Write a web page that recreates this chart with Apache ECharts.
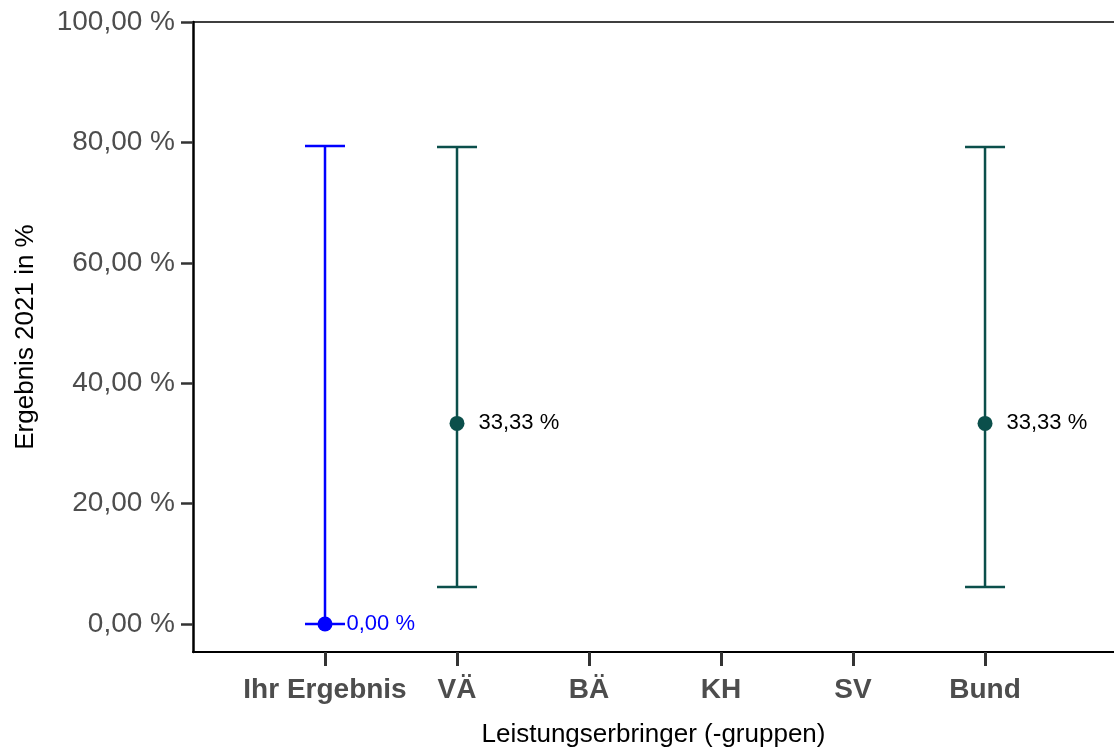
<!DOCTYPE html>
<html>
<head>
<meta charset="utf-8">
<title>Ergebnis 2021</title>
<script src="https://cdn.jsdelivr.net/npm/echarts@6/dist/echarts.min.js"></script>
<style>
  html, body { margin: 0; padding: 0; background: #fff; }
  #chart { width: 1114px; height: 753px; }
</style>
</head>
<body>
<div id="chart"></div>
<script>
// data
const categories = ['Ihr Ergebnis', 'VÄ', 'BÄ', 'KH', 'SV', 'Bund'];
const results = [0, 33.33, null, null, null, 33.33];
const lowerCI = [0, 6.15, null, null, null, 6.15];
const upperCI = [79.4, 79.25, null, null, null, 79.25];
const yTicks = [0, 20, 40, 60, 80, 100];

const FONT = '"Liberation Sans", Arial, Helvetica, sans-serif';
const ownColor = '#0000FF';
const groupColor = '#0B4F4B';
const colorFor = i => (i === 0 ? ownColor : groupColor);
const fmt = v => v.toFixed(2).replace('.', ',') + ' %';
const xTicks = categories.map((c, i) => i + 1);

const barData = [];
const pointData = [];
categories.forEach((c, i) => {
  if (results[i] == null) return;
  barData.push({ value: [i + 1, lowerCI[i], upperCI[i]], itemStyle: { color: colorFor(i) } });
  pointData.push({
    value: [i + 1, results[i]],
    itemStyle: { color: colorFor(i), opacity: 1 },
    label: { color: i === 0 ? ownColor : '#000' }
  });
});

const chart = echarts.init(document.getElementById('chart'), null, { renderer: 'canvas' });

chart.setOption({
  animation: false,
  textStyle: { fontFamily: FONT },
  grid: { left: 193, right: 0, top: 22, bottom: 95, containLabel: false },
  xAxis: [{
    type: 'value',
    min: 0,
    max: 6.977,
    interval: 1,
    name: 'Leistungserbringer (-gruppen)',
    nameLocation: 'middle',
    nameGap: 70,
    nameTextStyle: { fontSize: 26, color: '#000', fontFamily: FONT },
    axisLine: { onZero: false, lineStyle: { color: '#000', width: 2 } },
    axisTick: { customValues: xTicks, length: 14, lineStyle: { color: '#333', width: 3 } },
    axisLabel: {
      customValues: xTicks,
      formatter: v => categories[v - 1] || '',
      fontSize: 28,
      fontWeight: 'bold',
      color: '#4D4D4D',
      margin: 24,
      fontFamily: FONT
    },
    splitLine: { show: false }
  }, {
    type: 'value',
    position: 'top',
    min: 0,
    max: 6.977,
    axisLine: { onZero: false, lineStyle: { color: '#000', width: 1.5 } },
    axisTick: { show: false },
    axisLabel: { show: false },
    splitLine: { show: false }
  }],
  yAxis: {
    type: 'value',
    min: -4.64,
    max: 100,
    name: 'Ergebnis 2021 in %',
    nameLocation: 'middle',
    nameGap: 154,
    nameTextStyle: { fontSize: 26, color: '#000', fontFamily: FONT },
    axisLine: { show: true, onZero: false, lineStyle: { color: '#000', width: 2.5 } },
    axisTick: { show: true, customValues: yTicks, length: 12, lineStyle: { color: '#333', width: 2.5 } },
    axisLabel: {
      customValues: yTicks,
      formatter: v => fmt(v),
      fontSize: 28,
      color: '#4D4D4D',
      margin: 18,
      fontFamily: FONT
    },
    splitLine: { show: false }
  },
  series: [{
    type: 'custom',
    name: 'KI',
    data: barData,
    encode: { x: 0, y: [1, 2] },
    renderItem(params, api) {
      const x = api.value(0);
      const lo = api.coord([x, api.value(1)]);
      const hi = api.coord([x, api.value(2)]);
      const hw = 20;
      const style = { stroke: api.visual('color'), lineWidth: 2.5 };
      return {
        type: 'group',
        children: [
          { type: 'line', shape: { x1: lo[0], y1: lo[1], x2: hi[0], y2: hi[1] }, style },
          { type: 'line', shape: { x1: hi[0] - hw, y1: hi[1], x2: hi[0] + hw, y2: hi[1] }, style },
          { type: 'line', shape: { x1: lo[0] - hw, y1: lo[1], x2: lo[0] + hw, y2: lo[1] }, style }
        ]
      };
    },
    z: 2
  }, {
    type: 'scatter',
    name: 'Ergebnis',
    data: pointData,
    symbol: 'circle',
    symbolSize: 15,
    itemStyle: { opacity: 1 },
    label: {
      show: true,
      position: 'right',
      distance: 14,
      fontSize: 22,
      fontFamily: FONT,
      formatter: p => fmt(p.value[1])
    },
    z: 3
  }]
});
</script>
</body>
</html>
